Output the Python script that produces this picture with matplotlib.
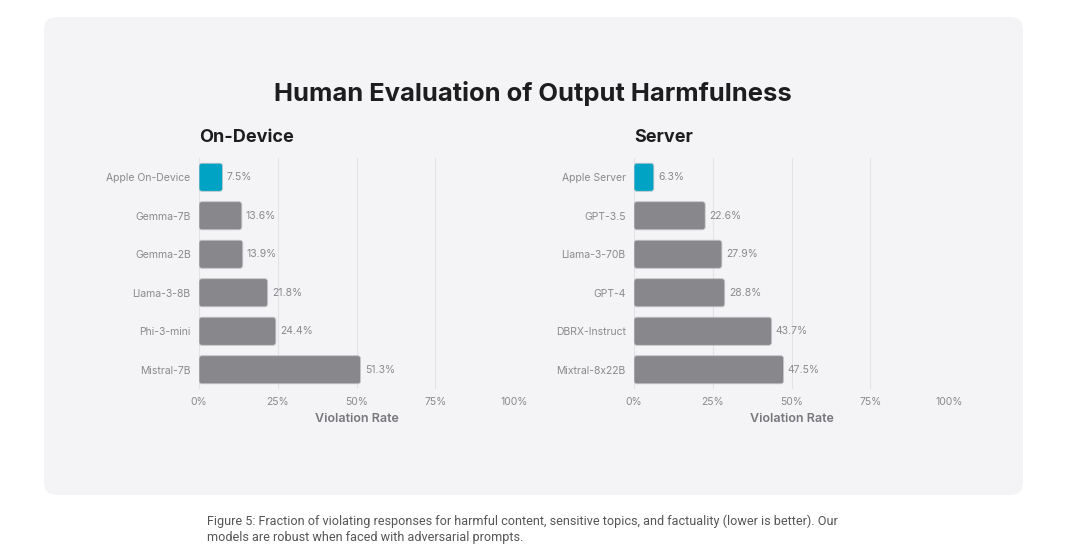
import matplotlib.pyplot as plt
from matplotlib.patches import FancyBboxPatch

# data
device_models = ["Apple On-Device", "Gemma-7B", "Gemma-2B", "Llama-3-8B", "Phi-3-mini", "Mistral-7B"]
device_rates = [7.5, 13.6, 13.9, 21.8, 24.4, 51.3]
server_models = ["Apple Server", "GPT-3.5", "Llama-3-70B", "GPT-4", "DBRX-Instruct", "Mixtral-8x22B"]
server_rates = [6.3, 22.6, 27.9, 28.8, 43.7, 47.5]
xticks = [0, 25, 50, 75, 100]
xticklabels = ["0%", "25%", "50%", "75%", "100%"]

plt.rcParams['font.family'] = ['Inter', 'DejaVu Sans']

W, H = 1078, 560
fig = plt.figure(figsize=(W / 100, H / 100), dpi=100)
fig.patch.set_facecolor('white')

# rounded background panel
panel = FancyBboxPatch((44 / W, 1 - 495 / H), (1023 - 44) / W, (495 - 17) / H,
                       boxstyle="round,pad=0,rounding_size=0.012",
                       mutation_aspect=W / H,
                       transform=fig.transFigure, facecolor='#f4f4f6',
                       edgecolor='none', zorder=-5)
fig.patches.append(panel)

fig.text(533 / W, 1 - 93 / H, "Human Evaluation of Output Harmfulness",
         ha='center', va='center', fontsize=18.4, fontweight='bold', color='#1d1d1f')

blue = '#00a3c4'
gray = '#88878c'


def draw(left_px, models, rates, subtitle):
    ax = fig.add_axes([left_px / W, 1 - 389 / H, 315 / W, 231 / H])
    ax.set_facecolor('none')
    ax.set_xlim(0, 100)
    ax.set_ylim(len(models) - 0.5, -0.5)
    px_per_x = 315 / 100
    px_per_y = 231 / len(models)
    for i, (m, v) in enumerate(zip(models, rates)):
        col = blue if i == 0 else gray
        h = 0.73
        p = FancyBboxPatch((0, i - h / 2), v, h,
                           boxstyle="round,pad=0,rounding_size=0.9",
                           mutation_aspect=px_per_x / px_per_y,
                           facecolor=col, edgecolor='#c8c8cc', linewidth=0.6, zorder=3)
        ax.add_patch(p)
        ax.text(v + 1.3, i, f"{v}%", va='center', ha='left', fontsize=7.5, color='#8a8a8e', zorder=4)
    ax.set_yticks(range(len(models)))
    ax.set_yticklabels(models, fontsize=7.5, color='#8a8a8e')
    ax.set_xticks(xticks)
    ax.set_xticklabels(xticklabels, fontsize=7.5, color='#8a8a8e')
    ax.tick_params(length=0, pad=6)
    ax.tick_params(axis='y', pad=6)
    ax.grid(axis='x', color='#e3e3e7', linewidth=0.8, zorder=1)
    ax.set_axisbelow(True)
    for s in ax.spines.values():
        s.set_visible(False)
    ax.set_xlabel("Violation Rate", fontsize=9, fontweight='semibold', color='#77777c', labelpad=4)
    fig.text(left_px / W, 1 - 137 / H, subtitle, ha='left', va='center',
             fontsize=13, fontweight='bold', color='#1d1d1f')
    return ax


draw(199, device_models, device_rates, "On-Device")
draw(634, server_models, server_rates, "Server")

fig.text(207 / W, 1 - 521 / H,
         "Figure 5: Fraction of violating responses for harmful content, sensitive topics, and factuality (lower is better). Our",
         ha='left', va='center', fontsize=9.1, color='#555558', fontfamily=['Roboto', 'DejaVu Sans'])
fig.text(207 / W, 1 - 538 / H, "models are robust when faced with adversarial prompts.",
         ha='left', va='center', fontsize=9.1, color='#555558', fontfamily=['Roboto', 'DejaVu Sans'])

fig.savefig("out.png", dpi=100, facecolor='white')
